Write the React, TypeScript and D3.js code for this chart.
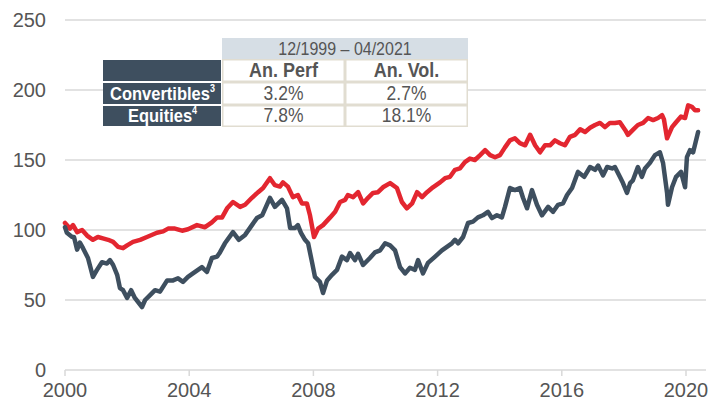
import React from "react";
import * as d3 from "d3";

// [decimal year, index level]
const convertibles: [number, number][] = [
  [2000.0, 105], [2000.16, 101], [2000.26, 103.5], [2000.39, 98.5], [2000.55, 100], [2000.71, 96],
  [2000.9, 93], [2001.06, 95], [2001.22, 94], [2001.39, 93], [2001.55, 91.5], [2001.71, 88],
  [2001.87, 87], [2002.0, 89], [2002.19, 91.5], [2002.42, 93], [2002.64, 95], [2002.96, 98],
  [2003.16, 99], [2003.32, 101], [2003.54, 101], [2003.77, 99.5], [2003.96, 100.5], [2004.25, 103.5],
  [2004.51, 102], [2004.73, 105.5], [2004.9, 109], [2005.06, 109], [2005.22, 115.5], [2005.41, 120],
  [2005.64, 116.5], [2005.8, 118], [2006.02, 123], [2006.22, 127], [2006.38, 130], [2006.6, 137],
  [2006.76, 132], [2006.92, 131], [2007.02, 134], [2007.18, 131], [2007.34, 123.5], [2007.5, 125],
  [2007.63, 119], [2007.79, 119], [2007.89, 110.5], [2008.02, 95], [2008.15, 101], [2008.31, 103.5],
  [2008.54, 109], [2008.7, 113], [2008.86, 120], [2009.02, 121.5], [2009.11, 125], [2009.28, 123.5],
  [2009.44, 127], [2009.6, 119], [2009.76, 123], [2009.92, 126.5], [2010.08, 127], [2010.24, 130.5],
  [2010.47, 133.5], [2010.69, 130], [2010.85, 120], [2011.01, 115.5], [2011.18, 119], [2011.34, 127],
  [2011.5, 123.5], [2011.66, 127], [2011.85, 130.5], [2012.08, 134], [2012.24, 137], [2012.4, 138],
  [2012.56, 143], [2012.72, 144], [2012.88, 148.5], [2013.04, 151], [2013.2, 150], [2013.37, 153.5],
  [2013.53, 157], [2013.69, 153.5], [2013.85, 152], [2014.01, 153.5], [2014.17, 159], [2014.33, 164],
  [2014.49, 165.5], [2014.65, 162], [2014.82, 160.5], [2014.98, 168], [2015.14, 160.5], [2015.3, 155.5],
  [2015.46, 160.5], [2015.62, 160.5], [2015.78, 164], [2015.94, 162], [2016.1, 160.5], [2016.26, 166.5],
  [2016.43, 168], [2016.59, 172], [2016.75, 170], [2016.91, 173], [2017.07, 175], [2017.23, 176.5],
  [2017.39, 173.5], [2017.55, 176.5], [2017.71, 176.5], [2017.87, 177], [2018.04, 171.5], [2018.13, 168],
  [2018.29, 171.5], [2018.45, 175], [2018.62, 176.5], [2018.78, 180], [2018.94, 178.5], [2019.1, 180],
  [2019.23, 182], [2019.29, 179], [2019.39, 165.5], [2019.55, 173.5], [2019.68, 177], [2019.84, 181],
  [2019.97, 180], [2020.07, 189], [2020.19, 188], [2020.29, 185.5], [2020.39, 185.5],
];

const equities: [number, number][] = [
  [2000.0, 102], [2000.06, 98], [2000.23, 95], [2000.29, 95], [2000.39, 86], [2000.48, 91],
  [2000.58, 87], [2000.74, 80], [2000.9, 66.5], [2001.03, 71.5], [2001.19, 77], [2001.35, 76],
  [2001.45, 78.5], [2001.55, 75], [2001.68, 68], [2001.77, 58.5], [2001.87, 57], [2002.0, 51.5],
  [2002.13, 57], [2002.25, 51.5], [2002.48, 45], [2002.58, 50], [2002.74, 53.5], [2002.9, 57],
  [2003.06, 56], [2003.29, 64], [2003.48, 64], [2003.64, 65.5], [2003.8, 63], [2003.96, 66.5],
  [2004.12, 69], [2004.41, 73.5], [2004.57, 70], [2004.73, 80], [2004.9, 81], [2004.99, 84],
  [2005.15, 90.5], [2005.41, 98.5], [2005.6, 93], [2005.8, 96.5], [2006.02, 103.5], [2006.18, 108.5],
  [2006.35, 110.5], [2006.6, 123], [2006.76, 116.5], [2006.99, 121.5], [2007.15, 115.5], [2007.25, 101.5],
  [2007.41, 101.5], [2007.5, 103.5], [2007.6, 98], [2007.73, 93], [2007.83, 90.5], [2007.96, 76.5],
  [2008.05, 66.5], [2008.21, 63], [2008.31, 55], [2008.44, 64], [2008.6, 68], [2008.76, 71.5],
  [2008.92, 81], [2009.08, 78.5], [2009.18, 83.5], [2009.34, 78.5], [2009.44, 83], [2009.6, 75],
  [2009.82, 80], [2009.98, 84], [2010.15, 85.5], [2010.31, 90.5], [2010.47, 89], [2010.63, 85.5],
  [2010.79, 73.5], [2010.95, 69], [2011.11, 73], [2011.27, 71.5], [2011.37, 78.5], [2011.53, 69],
  [2011.69, 76.5], [2011.92, 81], [2012.14, 85.5], [2012.3, 88], [2012.46, 90.5], [2012.56, 93],
  [2012.66, 90.5], [2012.82, 95], [2012.98, 105], [2013.14, 106], [2013.3, 109], [2013.46, 110.5],
  [2013.62, 113], [2013.75, 108.5], [2013.91, 110.5], [2014.07, 109], [2014.17, 116.5], [2014.33, 130],
  [2014.49, 128.5], [2014.65, 130], [2014.75, 123], [2014.88, 115.5], [2015.04, 128.5], [2015.2, 118],
  [2015.36, 110.5], [2015.56, 116.5], [2015.72, 113], [2015.88, 118], [2016.04, 119], [2016.17, 125],
  [2016.33, 130], [2016.52, 141.5], [2016.72, 138], [2016.91, 145], [2017.07, 143], [2017.17, 146],
  [2017.33, 139], [2017.46, 145], [2017.62, 144], [2017.71, 145], [2017.87, 138], [2017.97, 133.5],
  [2018.1, 126.5], [2018.2, 133.5], [2018.29, 135.5], [2018.45, 145], [2018.58, 138], [2018.68, 144],
  [2018.84, 148], [2019.0, 153.5], [2019.16, 155.5], [2019.26, 148], [2019.39, 126.5], [2019.42, 118],
  [2019.55, 130.5], [2019.68, 138], [2019.84, 141.5], [2019.97, 130.5], [2020.03, 152], [2020.13, 157],
  [2020.23, 155.5], [2020.39, 170],
];

const yTicks = [0, 50, 100, 150, 200, 250];
const xTicks = [2000, 2004, 2008, 2012, 2016, 2020];

const periodLabel = "12/1999 – 04/2021";
const columns = ["An. Perf", "An. Vol."];
const rows = [
  { name: "Convertibles", note: "3", values: ["3.2%", "2.7%"] },
  { name: "Equities", note: "4", values: ["7.8%", "18.1%"] },
];

const W = 710;
const H = 403;
const RED = "#e32630";
const SLATE = "#3e4f5f";
const GRID = "#d9d9d9";
const LABEL = "#555555";

export default function App() {
  const x = d3.scaleLinear().domain([2000, 2020]).range([65, 686]);
  const y = d3.scaleLinear().domain([0, 250]).range([370, 20]);
  const line = d3
    .line<[number, number]>()
    .x((d) => x(d[0]))
    .y((d) => y(d[1]));

  // table geometry
  const tx = [103, 222, 345, 468];
  const ty = [38, 59, 82, 105, 127];
  const stretch = (cx: number, cy: number) => `translate(${cx},${cy}) scale(1,1.12)`;

  return (
    <div style={{ position: "absolute", left: 0, top: 0 }}>
      <svg width={W} height={H} style={{ display: "block", fontFamily: "Liberation Sans, Arial, sans-serif" }}>
        <rect width={W} height={H} fill="#fff" />
        {yTicks.map((t) => (
          <g key={t}>
            <line x1={65} x2={706} y1={y(t)} y2={y(t)} stroke={GRID} strokeWidth={1.5} />
            <text x={46} y={y(t)} dy="0.36em" textAnchor="end" fontSize={20} fill={LABEL}>
              {t}
            </text>
          </g>
        ))}
        {xTicks.map((t) => (
          <g key={t}>
            <line x1={x(t)} x2={x(t)} y1={370} y2={376} stroke={GRID} strokeWidth={1.5} />
            <text x={x(t)} y={397} textAnchor="middle" fontSize={20} fill={LABEL}>
              {t}
            </text>
          </g>
        ))}

        <path d={line(convertibles) ?? ""} fill="none" stroke={RED} strokeWidth={4.5} strokeLinejoin="round" strokeLinecap="round" />
        <path d={line(equities) ?? ""} fill="none" stroke={SLATE} strokeWidth={4.5} strokeLinejoin="round" strokeLinecap="round" />

        {/* summary table */}
        <rect x={tx[0]} y={ty[0]} width={tx[3] - tx[0]} height={ty[4] - ty[0]} fill="#fff" />
        <rect x={tx[1]} y={ty[0]} width={tx[3] - tx[1]} height={ty[1] - ty[0]} fill="#d6dee5" />
        <text transform={stretch((tx[1] + tx[3]) / 2, ty[1] - 4)} textAnchor="middle" fontSize={16} fill={LABEL}>
          {periodLabel}
        </text>
        <rect x={tx[1]} y={ty[1]} width={tx[3] - tx[1]} height={ty[4] - ty[1]} fill="#e1ddd1" />
        {[0, 1, 2].map((r) =>
          [0, 1].map((c) => (
            <rect
              key={`${r}-${c}`}
              x={tx[c + 1] + 1.5}
              y={ty[r + 1] + 1.5}
              width={tx[c + 2] - tx[c + 1] - 3}
              height={ty[r + 2] - ty[r + 1] - 3}
              fill="#fff"
            />
          ))
        )}
        {[0, 1, 2].map((r) => (
          <rect
            key={r}
            x={tx[0]}
            y={ty[r + 1] + 1}
            width={tx[1] - tx[0] - 1}
            height={ty[r + 2] - ty[r + 1] - 2}
            fill={SLATE}
          />
        ))}
        {columns.map((c, i) => (
          <text
            key={c}
            transform={stretch((tx[i + 1] + tx[i + 2]) / 2, ty[2] - 5)}
            textAnchor="middle"
            fontSize={18}
            fontWeight="bold"
            fill={LABEL}
          >
            {c}
          </text>
        ))}
        {rows.map((row, r) => (
          <g key={row.name}>
            <text
              transform={stretch((tx[0] + tx[1]) / 2, ty[r + 3] - 5)}
              textAnchor="middle"
              fontSize={16.5}
              fontWeight="bold"
              fill="#fff"
            >
              {row.name}
              <tspan fontSize={9} dy={-7}>
                {row.note}
              </tspan>
            </text>
            {row.values.map((v, i) => (
              <text
                key={i}
                transform={stretch((tx[i + 1] + tx[i + 2]) / 2, ty[r + 3] - 5)}
                textAnchor="middle"
                fontSize={17.5}
                fill={LABEL}
              >
                {v}
              </text>
            ))}
          </g>
        ))}
      </svg>
    </div>
  );
}
